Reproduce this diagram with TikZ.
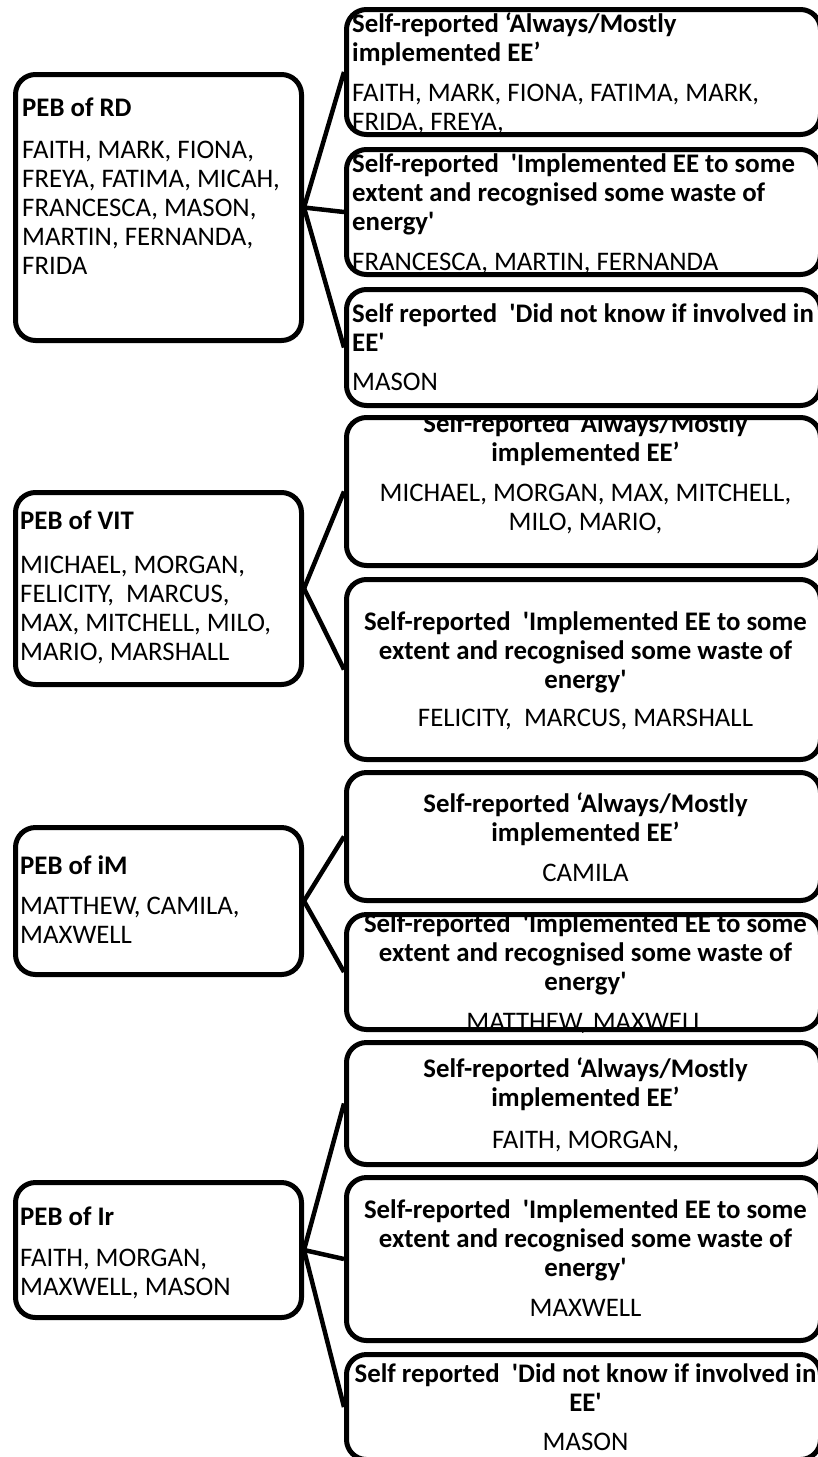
\documentclass[tikz,border=0pt]{standalone}
\usepackage{fontspec}
\setmainfont{Carlito}[Ligatures=TeXOff]
% text of a box is kept inside its outline
\newcommand\inbox[2]{\begin{scope}\clip[rounded corners=20pt] (#1.south west) rectangle (#1.north east);#2\end{scope}}
\begin{document}
\begin{tikzpicture}[x=1pt,y=-1pt,
  box/.style={draw, line width=5pt, rounded corners=20pt, inner sep=0pt},
  lbox/.style={box, minimum width=286pt},
  rbox/.style={box, minimum width=474pt},
  conn/.style={line width=4.5pt},
  txt/.style={inner sep=0pt, font=\fontsize{26.8}{29}\selectfont},
  % texts are placed by the baseline of their last line
  ltxt/.style={txt, anchor=base west, align=left},
  ctxt/.style={txt, anchor=base, align=center}]
\useasboundingbox (0,0) rectangle (818,1457);
\clip (0,0) rectangle (818,1457);

% ---------- RD ----------
\node[lbox, minimum height=266pt] (rd)  at (158.5,207.5) {};
\node[rbox, minimum height=125pt] (rd1) at (583.5,72) {};
\node[rbox, minimum height=125pt] (rd2) at (583.5,212) {};
\node[rbox, minimum height=116pt] (rd3) at (583.5,347.5) {};
\draw[conn] (rd.east) -- (rd1.west);
\draw[conn] (rd.east) -- (rd2.west);
\draw[conn] (rd.east) -- (rd3.west);
\inbox{rd}{\node[ltxt] (rdt) at (22,274) {\textbf{PEB of RD}\\[13pt]FAITH, MARK, FIONA,\\FREYA, FATIMA, MICAH,\\FRANCESCA, MASON,\\MARTIN, FERNANDA,\\FRIDA};}
\inbox{rd1}{\node[ltxt] (rd1t) at (352,130) {\textbf{Self-reported ‘Always/Mostly}\\\textbf{implemented EE’}\\[11pt]FAITH, MARK, FIONA, FATIMA, MARK,\\FRIDA, FREYA,};}
\inbox{rd2}{\node[ltxt] (rd2t) at (352,270) {\textbf{Self-reported\ \ 'Implemented EE to some}\\\textbf{extent and recognised some waste of}\\\textbf{energy'}\\[11pt]FRANCESCA, MARTIN, FERNANDA};}
\inbox{rd3}{\node[ltxt] (rd3t) at (352,390) {\textbf{Self reported\ \ 'Did not know if involved in}\\\textbf{EE'}\\[10pt]MASON};}

% ---------- VIT ----------
\node[lbox, minimum height=192pt] (vit)  at (158.5,588.5) {};
\node[rbox, minimum height=148pt] (vit1) at (583.5,491.5) {};
\node[rbox, minimum height=180pt] (vit2) at (583.5,669.5) {};
\draw[conn] (vit.east) -- (vit1.west);
\draw[conn] (vit.east) -- (vit2.west);
\inbox{vit}{\node[ltxt] (vitt) at (20,660) {\textbf{PEB of VIT}\\[15pt]MICHAEL, MORGAN,\\FELICITY,\ \ MARCUS,\\MAX, MITCHELL, MILO,\\MARIO, MARSHALL};}
\inbox{vit1}{\node[ctxt] (vit1t) at (585.5,530) {\textbf{Self-reported ‘Always/Mostly}\\\textbf{implemented EE’}\\[11pt]MICHAEL, MORGAN, MAX, MITCHELL,\\MILO, MARIO,};}
\inbox{vit2}{\node[ctxt] (vit2t) at (585.5,726) {\textbf{Self-reported\ \ 'Implemented EE to some}\\\textbf{extent and recognised some waste of}\\\textbf{energy'}\\[9pt]FELICITY,\ \ MARCUS, MARSHALL};}

% ---------- iM ----------
\node[lbox, minimum height=147pt] (im)  at (158.5,901) {};
\node[rbox, minimum height=128pt] (im1) at (583.5,836.5) {};
\node[rbox, minimum height=115pt] (im2) at (583.5,972) {};
\draw[conn] (im.east) -- (im1.west);
\draw[conn] (im.east) -- (im2.west);
\inbox{im}{\node[ltxt] (imt) at (20,943) {\textbf{PEB of iM}\\[11pt]MATTHEW, CAMILA,\\MAXWELL};}
\inbox{im1}{\node[ctxt] (im1t) at (585.5,881) {\textbf{Self-reported ‘Always/Mostly}\\\textbf{implemented EE’}\\[11pt]CAMILA};}
\inbox{im2}{\node[ctxt] (im2t) at (585.5,1030) {\textbf{Self-reported\ \ 'Implemented EE to some}\\\textbf{extent and recognised some waste of}\\\textbf{energy'}\\[11pt]MATTHEW, MAXWELL};}

% ---------- Ir ----------
\node[lbox, minimum height=135pt] (ir)  at (158.5,1250) {};
\node[rbox, minimum height=122pt] (ir1) at (583.5,1103.5) {};
\node[rbox, minimum height=163pt] (ir2) at (583.5,1259) {};
\node[rbox, minimum height=105pt] (ir3) at (583.5,1407) {};
\draw[conn] (ir.east) -- (ir1.west);
\draw[conn] (ir.east) -- (ir2.west);
\draw[conn] (ir.east) -- (ir3.west);
\inbox{ir}{\node[ltxt] (irt) at (20,1295) {\textbf{PEB of Ir}\\[12pt]FAITH, MORGAN,\\MAXWELL, MASON};}
\inbox{ir1}{\node[ctxt] (ir1t) at (585.5,1148) {\textbf{Self-reported ‘Always/Mostly}\\\textbf{implemented EE’}\\[13pt]FAITH, MORGAN,};}
\inbox{ir2}{\node[ctxt] (ir2t) at (585.5,1316) {\textbf{Self-reported\ \ 'Implemented EE to some}\\\textbf{extent and recognised some waste of}\\\textbf{energy'}\\[11pt]MAXWELL};}
\inbox{ir3}{\node[ctxt] (ir3t) at (585.5,1450) {\textbf{Self reported\ \ 'Did not know if involved in}\\\textbf{EE'}\\[10pt]MASON};}
\end{tikzpicture}
\end{document}
